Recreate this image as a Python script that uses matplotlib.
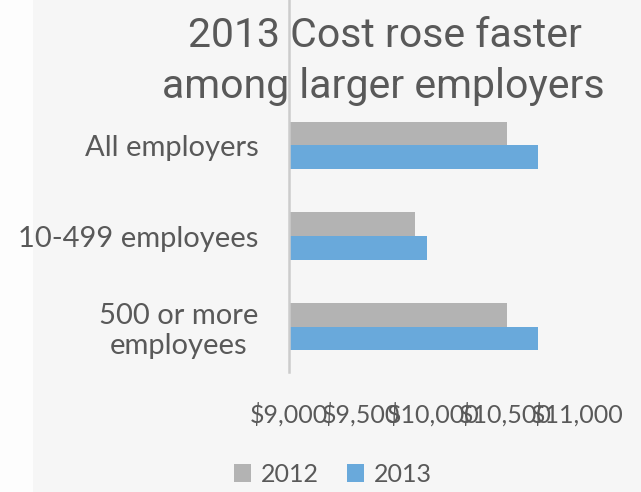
import matplotlib
matplotlib.use("Agg")
import matplotlib.pyplot as plt
from matplotlib.patches import Patch, Rectangle
from matplotlib.lines import Line2D
import numpy as np

# Average cost per employee by employer size
categories = ["All employers", "10-499 employees", "500 or more\nemployees"]
series_names = ["2012", "2013"]
cost_2012 = [10516, 9877, 10516]
cost_2013 = [10727, 9956, 10727]
x_ticks = [9000, 9500, 10000, 10500, 11000]
x_tick_labels = ["$9,000", "$9,500", "$10,000", "$10,500", "$11,000"]

title_lines = ["2013 Cost rose faster", "among larger employers"]

TEXT = "#595959"
GRAY = "#b3b3b3"
BLUE = "#69a9db"
W, H = 641, 492

fig = plt.figure(figsize=(W / 100, H / 100), dpi=100)
fig.patch.set_facecolor("#f6f6f6")
fig.add_artist(Rectangle((0, 0), 33 / W, 1, transform=fig.transFigure,
                         facecolor="#fdfdfd", edgecolor="none", zorder=-10))

ax = fig.add_axes([289 / W, 1 - 372 / H, 288 / W, 272 / H])
ax.set_facecolor("none")
ax.set_zorder(1)

y = np.arange(len(categories))
h = 0.261
ax.barh(y - h / 2, cost_2012, height=h, left=0, color=GRAY, label=series_names[0], zorder=2)
ax.barh(y + h / 2, cost_2013, height=h, left=0, color=BLUE, label=series_names[1], zorder=2)

ax.set_xlim(x_ticks[0], x_ticks[-1])
ax.set_ylim(len(categories) - 0.5, -0.5)

for s in ax.spines.values():
    s.set_visible(False)

ax.set_xticks(x_ticks)
ax.set_xticklabels(x_tick_labels, fontfamily="Lato", fontsize=18, color=TEXT)
ax.tick_params(axis="x", length=0, pad=22)
ax.set_yticks(y)
ax.set_yticklabels(categories, fontfamily="Lato", fontsize=21, color=TEXT,
                   linespacing=1.2)
for lab in ax.get_yticklabels():
    lab.set_multialignment("center")
ax.tick_params(axis="y", length=0, pad=22)

# vertical category axis line, running up to the top edge
fig.add_artist(Line2D([289 / W, 289 / W], [1 - 372 / H, 1.0], transform=fig.transFigure,
                      color="#cccccc", lw=1.8, zorder=3))

# title
fig.text(385 / W, 1 - 47 / H, title_lines[0], ha="center", va="baseline",
         fontfamily="Roboto", fontsize=29.5, color=TEXT, zorder=2)
fig.text(383 / W, 1 - 98 / H, title_lines[1], ha="center", va="baseline",
         fontfamily="Roboto", fontsize=29.5, color=TEXT, zorder=2)

handles = [Patch(facecolor=GRAY, label=series_names[0]),
           Patch(facecolor=BLUE, label=series_names[1])]
leg = fig.legend(handles=handles, loc="center", bbox_to_anchor=(333 / W, 1 - 474 / H),
                 ncol=2, frameon=False, handlelength=0.7, handleheight=0.7,
                 handletextpad=0.4, columnspacing=1.1,
                 prop={"family": "Lato", "size": 18})
for t in leg.get_texts():
    t.set_color(TEXT)

fig.savefig("out.png", dpi=100, facecolor=fig.get_facecolor())
